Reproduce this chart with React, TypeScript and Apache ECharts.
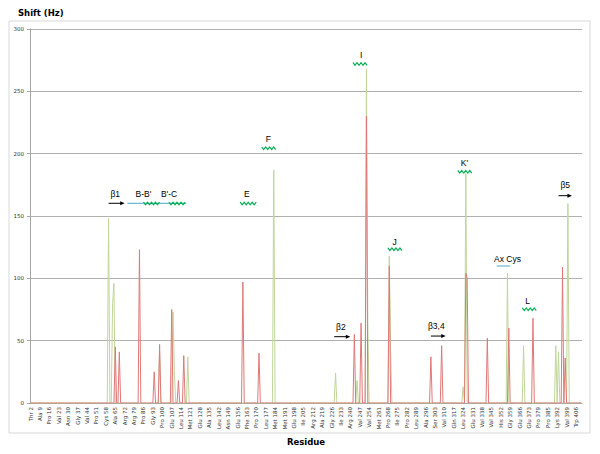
import React, { useEffect, useRef } from "react";
import * as echarts from "echarts";

// ---- data ----
const N = 411; // number of residue positions on the category axis
const tickLabels = [
  "Thr 2", "Ala 9", "Pro 16", "Val 23", "Asn 30", "Gly 37", "Val 44", "Pro 51", "Cys 58", "Ala 65",
  "Arg 72", "Arg 79", "Pro 86", "Gly 93", "Pro 100", "Glu 107", "Leu 114", "Met 121", "Glu 128", "Ala 135",
  "Leu 142", "Asn 149", "Glu 156", "Phe 163", "Pro 170", "Leu 177", "Met 184", "Met 191", "Glu 198", "Ile 205",
  "Arg 212", "Ala 219", "Gly 226", "Ile 233", "Arg 240", "Val 247", "Val 254", "Met 261", "Pro 268", "Ile 275",
  "Pro 282", "Leu 289", "Ala 296", "Ser 303", "Val 310", "Gln 317", "Leu 324", "Glu 331", "Val 338", "Val 345",
  "His 352", "Gly 359", "Glu 366", "Glu 373", "Pro 379", "Pro 385", "Lys 392", "Val 399", "Trp 406",
];
const categories = Array.from({ length: N }, (_, i) => String(i));

const redPeakPos = [63, 66, 81, 92, 96, 105, 110, 114, 158, 170, 241, 246, 250, 267, 298, 306, 324, 325, 340, 356, 374, 396, 398];
const redPeakVal = [45, 41, 123, 25, 47, 75, 18, 38, 97, 40, 55, 64, 230, 110, 37, 46, 104, 100, 52, 60, 68, 109, 36];

const greenPeakPos = [58, 61, 62, 96, 106, 107, 117, 181, 227, 243, 250, 251, 267, 268, 322, 324, 355, 367, 391, 393, 400];
const greenPeakVal = [148, 80, 96, 40, 73, 26, 37, 187, 24, 18, 268, 68, 118, 41, 13, 184, 104, 46, 46, 41, 160];

// annotations (data coordinates: category position, Hz)
const annTexts = [
  { t: "β1", x: 62.8, y: 167.4 },
  { t: "B-B'", x: 84.4, y: 167.4 },
  { t: "B'-C", x: 102.6, y: 167.4 },
  { t: "E", x: 161.3, y: 167.4 },
  { t: "F", x: 176.9, y: 211.5 },
  { t: "I", x: 245.7, y: 279.1 },
  { t: "J", x: 270.5, y: 129.4 },
  { t: "K'", x: 322.6, y: 192.7 },
  { t: "Ax Cys", x: 355, y: 115.3 },
  { t: "L", x: 370.3, y: 82.1 },
  { t: "β2", x: 230.8, y: 61.2 },
  { t: "β3,4", x: 302, y: 61.8 },
  { t: "β5", x: 398.4, y: 174.9 },
];
const helixWaves = [
  [84.4, 95.5, 160], [103, 114.9, 160], [156.4, 167.5, 160], [172, 182.9, 204.3],
  [240, 251.4, 271.9], [265.5, 276.7, 123.3], [317.6, 328.8, 185.5], [365.6, 376.5, 75.2],
];
const loopLines = [[71.7, 115.6, 160.2], [346.5, 356.9, 109.9]];
const strandArrows = [[58.3, 69.5, 160.2], [225.8, 237.7, 53.2], [297.8, 309, 53.7], [393.4, 403.1, 166.3]];

function buildSeries(pos: number[], val: number[]) {
  const arr = new Array(N).fill(0);
  pos.forEach((p, i) => { arr[p] = val[i]; });
  return arr;
}

export default function App() {
  const ref = useRef<HTMLDivElement>(null);
  useEffect(() => {
    if (!ref.current) return;
    const chart = echarts.init(ref.current, undefined, { renderer: "svg" });
    chart.setOption({
      animation: false,
      backgroundColor: "#ffffff",
      grid: { left: 30, right: 18, top: 29, bottom: 51 },
      xAxis: {
        type: "category",
        data: categories,
        boundaryGap: true,
        name: "Residue",
        nameLocation: "middle",
        nameGap: 33,
        nameTextStyle: { fontFamily: "DejaVu Sans", fontWeight: "bold", fontSize: 8.5, color: "#000" },
        axisLine: { lineStyle: { color: "#a6a6a6" } },
        axisTick: { show: false },
        axisLabel: {
          interval: 6,
          rotate: 90,
          fontSize: 5.5,
          fontFamily: "DejaVu Sans",
          color: "#333",
          margin: 4,
          formatter: (_v: string, idx: number) => tickLabels[Math.round(idx / 7)] ?? "",
        },
      },
      yAxis: {
        type: "value",
        min: 0,
        max: 300,
        interval: 50,
        axisLine: { show: true, lineStyle: { color: "#a6a6a6" } },
        axisTick: { show: true, length: 3, lineStyle: { color: "#a6a6a6" } },
        axisLabel: { fontSize: 5.5, fontFamily: "DejaVu Sans", color: "#333", margin: 6 },
        splitLine: { lineStyle: { color: "#b0b0b0", width: 1 } },
      },
      series: [
        {
          type: "line",
          name: "green",
          data: buildSeries(greenPeakPos, greenPeakVal),
          showSymbol: false,
          lineStyle: { color: "#c0d69a", width: 1 },
          z: 2,
        },
        {
          type: "line",
          name: "red",
          data: buildSeries(redPeakPos, redPeakVal),
          showSymbol: false,
          lineStyle: { color: "#e07878", width: 1 },
          z: 3,
        },
      ],
    });

    const px = (x: number, y: number) =>
      chart.convertToPixel({ xAxisIndex: 0, yAxisIndex: 0 }, [x, y]) as number[];
    const g: any[] = [];
    g.push({
      type: "rect",
      shape: { x: 9, y: 21, width: 581, height: 412 },
      style: { fill: "none", stroke: "#d9d9d9", lineWidth: 1 },
      z: 0,
    });
    g.push({
      type: "text",
      x: 18,
      y: 13,
      style: { text: "Shift (Hz)", fontFamily: "DejaVu Sans", fontWeight: "bold", fontSize: 8.5, fill: "#000", verticalAlign: "middle" },
    });
    loopLines.forEach(([a, b, v]) => {
      const p0 = px(a, v), p1 = px(b, v);
      g.push({ type: "line", shape: { x1: p0[0], y1: p0[1], x2: p1[0], y2: p1[1] }, style: { stroke: "#4bacc6", lineWidth: 1 }, z: 10 });
    });
    helixWaves.forEach(([a, b, v]) => {
      const p0 = px(a, v), p1 = px(b, v);
      const pts: number[][] = [];
      const step = 2;
      let k = 0;
      for (let x = p0[0]; x <= p1[0] + 0.01; x += step, k++) {
        pts.push([x, p0[1] + (k % 2 === 0 ? -1.3 : 1.3)]);
      }
      g.push({ type: "polyline", shape: { points: pts }, style: { stroke: "#00b050", lineWidth: 1.2, fill: "none" }, z: 11 });
    });
    strandArrows.forEach(([a, b, v]) => {
      const p0 = px(a, v), p1 = px(b, v);
      g.push({ type: "line", shape: { x1: p0[0], y1: p0[1], x2: p1[0] - 3, y2: p1[1] }, style: { stroke: "#000", lineWidth: 1 }, z: 11 });
      g.push({
        type: "polygon",
        shape: { points: [[p1[0], p1[1]], [p1[0] - 4.5, p1[1] - 2], [p1[0] - 4.5, p1[1] + 2]] },
        style: { fill: "#000" },
        z: 11,
      });
    });
    annTexts.forEach(({ t, x, y }) => {
      const p = px(x, y);
      g.push({
        type: "text",
        x: p[0],
        y: p[1],
        style: { text: t, fontFamily: "Liberation Sans", fontSize: 8.5, fill: "#000", align: "center", verticalAlign: "middle" },
        z: 12,
      });
    });
    chart.setOption({ graphic: g });

    return () => chart.dispose();
  }, []);
  return <div ref={ref} style={{ position: "fixed", left: 0, top: 0, width: 600, height: 454 }} />;
}
